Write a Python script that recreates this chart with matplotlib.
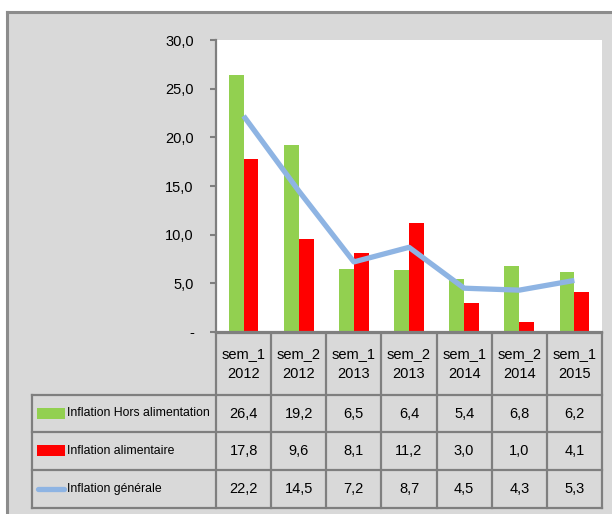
import matplotlib
matplotlib.use("Agg")
from matplotlib import pyplot as plt
from matplotlib import font_manager
from matplotlib.patches import Rectangle
from matplotlib.lines import Line2D
from matplotlib.transforms import blended_transform_factory

periods = ["sem_1\n2012", "sem_2\n2012", "sem_1\n2013", "sem_2\n2013",
           "sem_1\n2014", "sem_2\n2014", "sem_1\n2015"]
hors_alim = [26.4, 19.2, 6.5, 6.4, 5.4, 6.8, 6.2]
alim = [17.8, 9.6, 8.1, 11.2, 3.0, 1.0, 4.1]
generale = [22.2, 14.5, 7.2, 8.7, 4.5, 4.3, 5.3]
series_names = ["Inflation Hors alimentation", "Inflation alimentaire", "Inflation générale"]
y_ticks = [0, 5, 10, 15, 20, 25, 30]

GREEN = "#92d050"
RED = "#ff0000"
BLUE = "#8eb4e3"
GRID = "#7f7f7f"
BG = "#d9d9d9"


def pick_font():
    for name in ["Liberation Sans Narrow", "DejaVu Sans Condensed", "Liberation Sans"]:
        try:
            font_manager.findfont(name, fallback_to_default=False)
            return name
        except Exception:
            pass
    return "DejaVu Sans"


plt.rcParams["font.family"] = [pick_font(), "DejaVu Sans"]
plt.rcParams["font.size"] = 10

W, H = 612, 514
fig = plt.figure(figsize=(W / 100, H / 100), dpi=100)
fig.patch.set_facecolor("white")


def fx(px):
    return px / W


def fy(py):
    return 1 - py / H


# gray chart background with border on top / left
fig.add_artist(Rectangle((fx(7), 0), 1 - fx(7), fy(12), transform=fig.transFigure,
                         facecolor=BG, edgecolor="none", zorder=0))
fig.add_artist(Line2D([fx(7), 1], [fy(12), fy(12)], transform=fig.transFigure,
                      color="#8c8c8c", lw=2.2))
fig.add_artist(Line2D([fx(7), fx(7)], [fy(12), 0], transform=fig.transFigure,
                      color="#8c8c8c", lw=2.2))

ax = fig.add_axes([fx(216), fy(332), fx(602) - fx(216), fy(40) - fy(332)])
ax.set_facecolor("white")

x = list(range(len(periods)))
bw = 0.27
ax.bar([i - bw / 2 for i in x], hors_alim, width=bw, color=GREEN, zorder=2)
ax.bar([i + bw / 2 for i in x], alim, width=bw, color=RED, zorder=2)
ax.plot(x, generale, color=BLUE, lw=3.8, solid_capstyle="butt", zorder=3)

ax.set_xlim(-0.5, len(periods) - 0.5)
ax.set_ylim(0, 30)
ax.set_yticks(y_ticks)
ax.set_yticklabels(["-" if v == 0 else f"{v:.1f}".replace(".", ",") for v in y_ticks],
                   fontsize=10.5)
ax.tick_params(axis="y", length=4, width=1.5, color=GRID, pad=12)
ax.set_xticks([])
for s in ["top", "right"]:
    ax.spines[s].set_visible(False)
for s in ["left", "bottom"]:
    ax.spines[s].set_color(GRID)
    ax.spines[s].set_linewidth(1.6)

# data table below the axes
blend = blended_transform_factory(ax.transData, fig.transFigure)
row_edges = [333, 395, 432, 470, 508]
left_px = 32
n = len(periods)

# horizontal lines
fig.add_artist(Line2D([-0.5, n - 0.5], [fy(row_edges[0])] * 2, transform=blend, color=GRID, lw=1.6))
for r in row_edges[1:]:
    fig.add_artist(Line2D([fx(left_px), fx(602)], [fy(r)] * 2, transform=fig.transFigure,
                          color=GRID, lw=1.6))
# vertical lines
for i in range(n + 1):
    fig.add_artist(Line2D([i - 0.5, i - 0.5], [fy(row_edges[0]), fy(row_edges[-1])],
                          transform=blend, color=GRID, lw=1.6))
fig.add_artist(Line2D([fx(left_px), fx(left_px)], [fy(row_edges[1]), fy(row_edges[-1])],
                      transform=fig.transFigure, color=GRID, lw=1.6))

# header
for i, p in enumerate(periods):
    fig.text(i, fy((row_edges[0] + row_edges[1]) / 2), p, transform=blend,
             ha="center", va="center", fontsize=10.5, linespacing=1.6)

# rows
rows = [hors_alim, alim, generale]
for k, (name, vals) in enumerate(zip(series_names, rows)):
    yc = fy((row_edges[k + 1] + row_edges[k + 2]) / 2)
    if k < 2:
        fig.add_artist(Rectangle((fx(37), yc - 5 / H), fx(65) - fx(37), 11 / H,
                                 transform=fig.transFigure,
                                 facecolor=[GREEN, RED][k], edgecolor="none"))
    else:
        fig.add_artist(Line2D([fx(38), fx(64)], [yc, yc], transform=fig.transFigure,
                              color=BLUE, lw=3.8, solid_capstyle="round"))
    fig.text(fx(67), yc, name, ha="left", va="center", fontsize=8.8)
    for i, v in enumerate(vals):
        fig.text(i, yc, f"{v:.1f}".replace(".", ","), transform=blend,
                 ha="center", va="center", fontsize=10.5)

fig.savefig("out.png", dpi=100, facecolor=fig.get_facecolor())
